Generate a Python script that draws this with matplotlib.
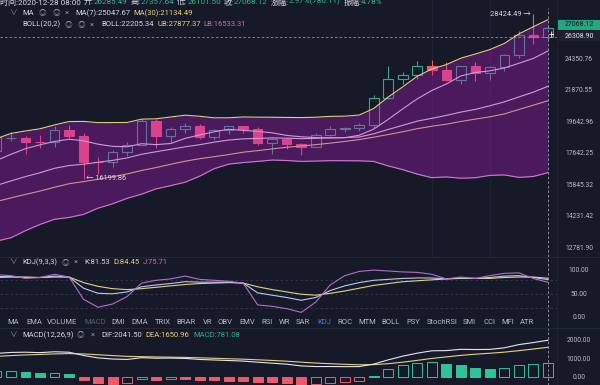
import matplotlib
matplotlib.use("Agg")
import matplotlib.pyplot as plt
from matplotlib.lines import Line2D
from matplotlib.patches import Rectangle

plt.rcParams['font.family'] = ['Roboto', 'Noto Sans CJK SC', 'DejaVu Sans']

W, H = 600, 385
BG = '#161a28'
UP = '#34a88a'
DOWN = '#ef5a6b'
TXT = '#d6d9e2'
GRAY = '#8a8fa0'
YEL = '#e3d27a'
PINK = '#c46fc0'
GREEN_TXT = '#2fb98a'
FILL = '#b01ac2'

# daily BTC candles, index -1 = 2020-11-20 ... 37 = 2020-12-28
days = list(range(-1, 38))
opens = [17817, 18621, 18643, 18370, 18365, 19160, 18720, 17150, 17139, 17719,
         18185, 19695, 18765, 19205, 19421, 18650, 19147, 19359, 19166, 18324,
         18541, 18254, 18036, 18808, 19175, 19273, 19426, 21335, 22797, 23107,
         23821, 23455, 22719, 23810, 23232, 23729, 24712, 26493, 26285.49]
highs = [18815, 18966, 18750, 18773, 19418, 19484, 18915, 17457, 17880, 18344,
         19863, 19888, 19342, 19566, 19527, 19177, 19420, 19420, 19294, 18639,
         18557, 18292, 18948, 19411, 19349, 19570, 21560, 23800, 23285, 24171,
         24295, 24102, 23837, 24100, 23794, 24789, 26867, 28424.49, 27357.64]
lows = [17740, 18400, 17610, 18000, 18018, 18565, 16199.86, 16438, 16865, 17517,
        18185, 18001, 18331, 18925, 18565, 18500, 18857, 18902, 18200, 17650,
        17911, 17572, 18020, 18711, 19000, 19050, 19278, 21230, 22350, 22750,
        23060, 22600, 22354, 22600, 22703, 23433, 24500, 25700, 26101.50]
closes = [18650, 18643, 18370, 18365, 19160, 18720, 17150, 17139, 17719, 18185,
          19695, 18765, 19205, 19421, 18650, 19147, 19359, 19166, 18324, 18541,
          18254, 18036, 18808, 19175, 19273, 19426, 21335, 22797, 23107, 23821,
          23455, 22719, 23810, 23232, 23729, 24712, 26493, 26285.49, 27068.12]

ma7 = [17239, 17606, 17950, 18184, 18398, 18533, 18437, 18221, 18089, 18063,
       18253, 18196, 18265, 18590, 18806, 19010, 19177, 19102, 19039, 18944,
       18777, 18690, 18641, 18615, 18630, 18788, 19187, 19836, 20560, 21276,
       21888, 22380, 23006, 23277, 23410, 23640, 24021, 24426, 25047.67]
ma30 = [14983, 15171, 15353, 15528, 15732, 15920, 16037, 16166, 16308, 16462,
        16658, 16825, 17014, 17193, 17343, 17462, 17587, 17732, 17826, 17933,
        18032, 18109, 18194, 18289, 18396, 18511, 18665, 18836, 19014, 19214,
        19374, 19510, 19691, 19853, 20005, 20205, 20517, 20821, 21134.49]
boll_mid = [15830, 16074, 16315, 16532, 16783, 16939, 17017, 17132, 17244, 17387,
            17607, 17760, 17907, 18062, 18191, 18350, 18482, 18557, 18584, 18620,
            18600, 18570, 18592, 18633, 18638, 18674, 18883, 19166, 19436, 19717,
            19905, 20103, 20333, 20523, 20777, 21055, 21412, 21768, 22205.34]
boll_ub = [18574, 18906, 19065, 19208, 19463, 19687, 19695, 19616, 19620, 19625,
           19848, 19874, 19997, 20118, 20045, 19938, 19942, 19997, 19984, 19976,
           19964, 19956, 19979, 20038, 20052, 20128, 20585, 21410, 22164, 22981,
           23555, 23909, 24441, 24793, 25173, 25701, 26552, 27214, 27877.37]
boll_lb = [13086, 13242, 13565, 13856, 14103, 14191, 14339, 14648, 14868, 15149,
           15366, 15646, 15817, 16006, 16337, 16762, 17022, 17117, 17184, 17264,
           17236, 17184, 17205, 17228, 17224, 17220, 17181, 16922, 16707, 16453,
           16255, 16297, 16225, 16253, 16381, 16409, 16272, 16322, 16533.31]

kdj_k = [88, 88, 86, 86, 89, 87, 63, 52, 51, 55, 66, 70, 73, 77, 76, 76, 76, 74, 53, 48,
         43, 37, 43, 58, 68, 75, 80, 82, 84, 85, 85, 83, 85, 84, 86, 89, 90, 86, 81.53]
kdj_d = [86, 87, 87, 86, 87, 87, 75, 67, 62, 60, 62, 65, 68, 71, 73, 74, 75, 74, 66, 60,
         55, 50, 48, 52, 57, 63, 69, 73, 77, 79, 81, 83, 84, 84, 84, 86, 87, 87, 84.45]
kdj_j = [92, 90, 84, 86, 93, 87, 39, 22, 29, 45, 74, 80, 83, 89, 82, 80, 78, 74, 27, 24,
         19, 11, 33, 70, 90, 99, 102, 100, 98, 97, 93, 83, 87, 84, 90, 95, 96, 84, 75.71]

dif = [1311, 1365, 1378, 1353, 1403, 1376, 1195, 1061, 999, 976, 1071, 1044, 1051, 1033,
       975, 946, 916, 885, 821, 769, 713, 615, 581, 583, 575, 580, 718, 953, 1159, 1324,
       1456, 1468, 1537, 1527, 1533, 1620, 1799, 1914, 2041.50]
dea = [1146, 1190, 1228, 1253, 1283, 1301, 1280, 1236, 1189, 1146, 1131, 1114, 1101, 1088,
       1065, 1041, 1016, 990, 956, 919, 878, 825, 776, 738, 705, 680, 688, 741, 824, 924,
       1031, 1118, 1202, 1267, 1320, 1380, 1464, 1554, 1650.96]
macd_hist = [330, 350, 300, 200, 240, 150, -170, -350, -380, -340, -120, -140, -100, -110,
             -180, -190, -200, -210, -270, -300, -330, -420, -390, -310, -260, -200, 60, 425,
             670, 800, 850, 700, 670, 520, 425, 480, 670, 720, 781.08]

price_ticks = [24350.76, 21870.55, 19642.96, 17642.25, 15845.32, 14231.42, 12781.90]
kdj_ticks = [100, 50, 0]
macd_ticks = [2000, 1000, 0]

tabs = ['MA', 'EMA', 'VOLUME', 'MACD', 'DMI', 'DMA', 'TRIX', 'BRAR', 'VR', 'OBV', 'EMV',
        'RSI', 'WR', 'SAR', 'KDJ', 'ROC', 'MTM', 'BOLL', 'PSY', 'StochRSI', 'SMI', 'CCI',
        'MFI', 'ATR']
tab_x = [13, 34.5, 62.5, 95, 118.5, 140, 162.5, 186, 207.5, 225.5, 247.5, 267.5, 284.5,
         303, 324.5, 344.5, 367, 391, 413.5, 442, 469.5, 490, 507.5, 527]

fig = plt.figure(figsize=(6, 3.85), dpi=100, facecolor=BG)
PLOT_W = 557


def px_axes(top, bottom):
    a = fig.add_axes([0, 1 - bottom / H, PLOT_W / W, (bottom - top) / H])
    a.set_facecolor(BG)
    for s in a.spines.values():
        s.set_visible(False)
    a.tick_params(which='both', left=False, bottom=False, labelleft=False, labelbottom=False)
    a.set_xlim(-0.76, 37.63)
    return a


def ftext(x, y, s, color, size=5.5, ha='left', **kw):
    return fig.text(x / W, 1 - y / H, s, color=color, fontsize=size, ha=ha, va='center', **kw)


def axis_label(a, v, s):
    a.text(579 / PLOT_W, v, s, transform=a.get_yaxis_transform(), ha='center', va='center',
           color='#b9bdc9', fontsize=4.9, clip_on=False)


# ---- main price panel
ax = px_axes(0, 257)
ax.set_yscale('log')
ax.set_ylim(12396.5, 29817.6)
ax.set_yticks([], minor=True)
ax.set_yticks([])
for gx in (29, 33):
    ax.axvline(gx, color='#1f2335', lw=0.6, zorder=0)

for i, o, h, l, c in zip(days, opens, highs, lows, closes):
    up = c >= o
    col = UP if up else DOWN
    ax.vlines(i, l, h, color=col, lw=0.8, zorder=1.5)
    ax.bar(i, abs(c - o), bottom=min(o, c), width=0.66, facecolor=BG if up else col,
           edgecolor=col, linewidth=0.8, zorder=2)

ax.plot(days, ma7, color='#dedfe8', lw=0.8, zorder=2.5)
ax.plot(days, ma30, color=YEL, lw=0.8, zorder=2.5)
ax.plot(days, boll_mid, color='#dedfe8', lw=0.8, zorder=2.5)
ax.plot(days, boll_ub, color=YEL, lw=0.8, zorder=2.5)
ax.plot(days, boll_lb, color='#e2a6d6', lw=0.8, zorder=2.5)
ax.fill_between(days, boll_lb, boll_ub, color=FILL, alpha=0.35, lw=0, zorder=3)

ax.axhline(26308.90, color='#8d91a2', lw=0.6, ls=(0, (3, 2.5)), zorder=4)
for v in price_ticks:
    axis_label(ax, v, f'{v:.2f}')

hi = highs.index(max(highs))
lo = lows.index(min(lows))
ax.text(days[hi] - 0.2, highs[hi], f'{highs[hi]:.2f} →', color=TXT, fontsize=5.3,
        ha='right', va='center', zorder=5)
ax.text(days[lo] + 0.15, lows[lo], f'← {lows[lo]:.2f}', color=TXT, fontsize=5.3,
        ha='left', va='center', zorder=5)

# ---- KDJ panel
kax = px_axes(257, 328)
kax.set_ylim(-22.6, 130.1)
for v in (80, 50, 20):
    kax.axhline(v, color='#353a4c', lw=0.6, ls=(0, (3, 3)), zorder=0)
kax.plot(days, kdj_d, color=YEL, lw=0.8)
kax.plot(days, kdj_k, color='#b9c6ee', lw=0.8)
kax.plot(days, kdj_j, color='#b86ac8', lw=0.8)
for v in kdj_ticks:
    axis_label(kax, v, f'{v:.2f}')

# ---- MACD panel
max_ = px_axes(328, 385)
max_.set_ylim(-444, 2722)
prev = None
for i, v in zip(days, macd_hist):
    rising = prev is None or v >= prev
    col = '#2ec49a' if v >= 0 else DOWN
    max_.bar(i, v, width=0.68, facecolor=BG if rising else col, edgecolor=col,
             linewidth=0.7, zorder=2)
    prev = v
max_.plot(days, dea, color=YEL, lw=0.8, zorder=3)
max_.plot(days, dif, color='#e4e5ee', lw=0.8, zorder=3)
for v in macd_ticks:
    axis_label(max_, v, f'{v:.2f}')

# crosshair and separators
fig.add_artist(Line2D([547.9 / W] * 2, [0, 1 - 8 / H], color='#9a9eae', lw=0.6,
                      ls=(0, (3, 2.5)), transform=fig.transFigure))
for yy in (257, 328):
    fig.add_artist(Line2D([0, 1], [1 - yy / H] * 2, color='#262b3b', lw=0.6,
                          transform=fig.transFigure))
fig.add_artist(Line2D([PLOT_W / W] * 2, [0, 1], color='#1f2334', lw=0.6,
                      transform=fig.transFigure))

# price tags on the right
fig.add_artist(Rectangle((558 / W, 1 - 30 / H), 42 / W, 10 / H, facecolor='#26a67e',
                         edgecolor='none', transform=fig.transFigure))
ftext(579, 25, f'{closes[-1]:.2f}', '#0f131d', size=5.0, ha='center')
fig.add_artist(Rectangle((558 / W, 1 - 41 / H), 42 / W, 10 / H, facecolor='#30354452',
                         edgecolor='none', transform=fig.transFigure))
ftext(579, 36, '26308.90', '#e2e4ea', size=5.0, ha='center')
ftext(551, 36, '+', '#ffffff', size=7, ha='center')

# header line (cut off at the top)
r = fig.canvas.get_renderer()
x = 0
header = [('时间:2020-12-28 08:00', TXT, 3), ('开:', TXT, 0), ('26285.49', GREEN_TXT, 3),
          ('高:', TXT, 0), ('27357.64', GREEN_TXT, 3), ('低:', TXT, 0), ('26101.50', GREEN_TXT, 3),
          ('收:', TXT, 0), ('27068.12', GREEN_TXT, 3), ('涨幅:', TXT, 0),
          ('2.97%(780.11)', GREEN_TXT, 3), ('振幅:', TXT, 0), ('4.78%', GREEN_TXT, 0)]
for s, col, gap in header:
    t = ftext(x, 1.5, s, col, size=5.8)
    x += t.get_window_extent(r).width + gap

# legends
ftext(13, 13, '∨', GRAY, ha='center')
ftext(22, 13, 'MA', TXT)
for cx, s in ((42, '◎'), (56, '◎'), (67, '×')):
    ftext(cx, 13, s, GRAY, ha='center')
ftext(75, 13, f'MA(7):{ma7[-1]:.2f}', TXT)
ftext(133, 13, f'MA(30):{ma30[-1]:.2f}', YEL)

ftext(22, 24.5, 'BOLL(20,2)', TXT)
for cx, s in ((68, '◎'), (81, '◎'), (92, '×')):
    ftext(cx, 24.5, s, GRAY, ha='center')
ftext(101, 24.5, f'BOLL:{boll_mid[-1]:.2f}', TXT)
ftext(157, 24.5, f'UB:{boll_ub[-1]:.2f}', YEL)
ftext(203, 24.5, f'LB:{boll_lb[-1]:.2f}', PINK)

ftext(13, 262, '∨', GRAY, ha='center')
ftext(22, 262, 'KDJ(9,3,3)', TXT)
ftext(65, 262, '◎', GRAY, ha='center')
ftext(76, 262, '×', GRAY, ha='center')
ftext(84, 262, f'K:{kdj_k[-1]:.2f}', TXT)
ftext(113, 262, f'D:{kdj_d[-1]:.2f}', YEL)
ftext(143, 262, f'J:{kdj_j[-1]:.2f}', PINK)

ftext(13, 335, '∨', GRAY, ha='center')
ftext(22, 335, 'MACD(12,26,9)', TXT)
ftext(80, 335, '◎', GRAY, ha='center')
ftext(93, 335, '×', GRAY, ha='center')
ftext(101, 335, f'DIF:{dif[-1]:.2f}', TXT)
ftext(145, 335, f'DEA:{dea[-1]:.2f}', YEL)
ftext(193, 335, f'MACD:{macd_hist[-1]:.2f}', '#2bb08e')

# indicator tab bar
for name, cx in zip(tabs, tab_x):
    col = '#3d80d8' if name == 'KDJ' else ('#5a5f70' if name == 'MACD' else '#b8bcc8')
    ftext(cx, 322, name, col, size=5.5, ha='center')

fig.savefig('out.png', dpi=100, facecolor=BG)
